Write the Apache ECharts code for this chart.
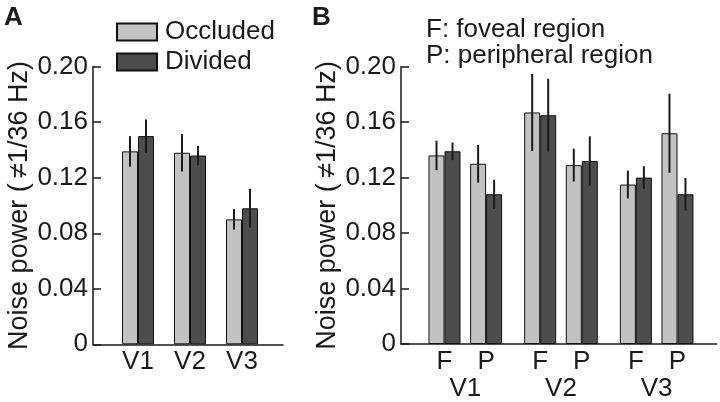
<!DOCTYPE html>
<html><head><meta charset="utf-8">
<script src="https://cdn.jsdelivr.net/npm/echarts@6/dist/echarts.min.js"></script>
<style>html,body{margin:0;padding:0;background:#fff}#c{width:720px;height:402px}</style>
</head><body><div id="c"></div>
<script>
// ---- data ----
const seriesNames = ['Occluded', 'Divided'];
const areasA = ['V1', 'V2', 'V3'];
const occludedA = [0.139, 0.138, 0.090];
const dividedA = [0.150, 0.136, 0.098];
const occludedErrA = [0.011, 0.0135, 0.0074];
const dividedErrA = [0.012, 0.007, 0.014];

const regionsB = ['F', 'P'];
const areasB = ['V1', 'V2', 'V3'];
// order: V1-F, V1-P, V2-F, V2-P, V3-F, V3-P
const occludedB = [0.136, 0.130, 0.167, 0.129, 0.115, 0.152];
const dividedB = [0.139, 0.108, 0.165, 0.132, 0.120, 0.108];
const occludedErrB = [0.0106, 0.0136, 0.0278, 0.0118, 0.0100, 0.0285];
const dividedErrB = [0.0064, 0.0105, 0.0263, 0.0178, 0.0082, 0.0117];

const yTicks = [0, 0.04, 0.08, 0.12, 0.16, 0.20];
const yName = 'Noise power (\u2009\u22601/36 Hz)';
const noteText = 'F: foveal region\nP: peripheral region';

// ---- layout helpers ----
const FONT = "'Liberation Sans', Arial, sans-serif";
const BAR_W = 16;
const REGION_STEP = 2.3;
const colors = ['#c2c2c2', '#4d4d4d'];
const ink = '#1a1a1a';

const xsA = areasA.map((_, i) => i);
const xsB = [];
areasB.forEach((_, r) => regionsB.forEach((_, s) => xsB.push(r * REGION_STEP + s)));
const regionCentersB = areasB.map((_, r) => r * REGION_STEP + (regionsB.length - 1) / 2);
const labelB = xsB.map((_, i) => regionsB[i % regionsB.length]);

function findIdx(arr, v) { return arr.findIndex(a => Math.abs(a - v) < 1e-6); }

function yAxisCfg(gridIndex) {
  return {
    type: 'value', gridIndex, min: yTicks[0], max: yTicks[yTicks.length - 1], interval: 0.04,
    position: 'left',
    name: yName, nameLocation: 'middle', nameGap: 57,
    nameTextStyle: { fontSize: 27, color: ink, fontFamily: FONT },
    axisLine: { show: true, onZero: false, lineStyle: { color: ink, width: 1.5 } },
    axisTick: { show: true, inside: true, length: 8, lineStyle: { color: ink, width: 1.5 } },
    axisLabel: {
      margin: 5, fontSize: 26, color: ink, fontFamily: FONT,
      formatter: v => (Math.abs(v) < 1e-9 ? '0' : v.toFixed(2))
    },
    splitLine: { show: false }
  };
}

function xAxisCfg(gridIndex, min, max, ticks, labelFor, showLine, offset) {
  return {
    type: 'value', gridIndex, min, max, position: 'bottom', offset: offset || 0,
    axisLine: { show: showLine, onZero: false, lineStyle: { color: ink, width: 1.5 } },
    axisTick: { show: false },
    splitLine: { show: false },
    axisLabel: {
      margin: 5, fontSize: 26, color: ink, fontFamily: FONT,
      customValues: ticks,
      formatter: v => labelFor(findIdx(ticks, v))
    }
  };
}

function barSeries(name, xAxisIndex, yAxisIndex, xs, vals, color) {
  return {
    type: 'bar', name, xAxisIndex, yAxisIndex, barWidth: BAR_W, barGap: '0%',
    data: xs.map((x, i) => [x, vals[i]]),
    itemStyle: { color, borderColor: '#111', borderWidth: 1 },
    silent: true, animation: false
  };
}

function errSeries(xAxisIndex, yAxisIndex, xs, vals, errs, side) {
  return {
    type: 'custom', xAxisIndex, yAxisIndex, silent: true, z: 5, animation: false,
    data: xs.map((x, i) => [x, vals[i] - errs[i], vals[i] + errs[i]]),
    encode: { x: 0, y: [1, 2] },
    renderItem(params, api) {
      const lo = api.coord([api.value(0), api.value(1)]);
      const hi = api.coord([api.value(0), api.value(2)]);
      const dx = side * BAR_W / 2;
      return {
        type: 'line',
        shape: { x1: lo[0] + dx, y1: lo[1], x2: hi[0] + dx, y2: hi[1] },
        style: { stroke: ink, lineWidth: 2 }
      };
    }
  };
}

const option = {
  backgroundColor: '#fff',
  animation: false,
  textStyle: { fontFamily: FONT },
  title: [
    { text: 'A', left: 4, top: 5, padding: 0, textStyle: { fontSize: 26, fontWeight: 'bold', color: ink, fontFamily: FONT } },
    { text: 'B', left: 312, top: 5, padding: 0, textStyle: { fontSize: 26, fontWeight: 'bold', color: ink, fontFamily: FONT } },
    { text: noteText, left: 426, top: 17, padding: 0, textStyle: { fontSize: 26, lineHeight: 26, fontWeight: 'normal', color: ink, fontFamily: FONT } }
  ],
  legend: {
    data: seriesNames, orient: 'vertical', left: 116, top: 19, padding: 0,
    itemWidth: 40, itemHeight: 17, itemGap: 4, icon: 'rect',
    textStyle: { fontSize: 26, lineHeight: 25, color: ink, fontFamily: FONT, padding: [0, 0, 0, 3] },
    selectedMode: false
  },
  grid: [
    { left: 93, right: 720 - 283, top: 66.7, bottom: 402 - 344.3 },
    { left: 401, right: 720 - 716.7, top: 66.7, bottom: 402 - 344.3 }
  ],
  xAxis: [
    xAxisCfg(0, -0.865, 2.788, xsA, i => areasA[i], true, 0),
    xAxisCfg(1, -1.046, 6.543, xsB, i => labelB[i], true, 0),
    xAxisCfg(1, -1.046, 6.543, regionCentersB, i => areasB[i], false, 27)
  ],
  yAxis: [yAxisCfg(0), yAxisCfg(1)],
  series: [
    barSeries(seriesNames[0], 0, 0, xsA, occludedA, colors[0]),
    barSeries(seriesNames[1], 0, 0, xsA, dividedA, colors[1]),
    barSeries(seriesNames[0], 1, 1, xsB, occludedB, colors[0]),
    barSeries(seriesNames[1], 1, 1, xsB, dividedB, colors[1]),
    errSeries(0, 0, xsA, occludedA, occludedErrA, -1),
    errSeries(0, 0, xsA, dividedA, dividedErrA, 1),
    errSeries(1, 1, xsB, occludedB, occludedErrB, -1),
    errSeries(1, 1, xsB, dividedB, dividedErrB, 1)
  ]
};

const chart = echarts.init(document.getElementById('c'), null, { renderer: 'canvas' });
chart.setOption(option);
</script>
</body></html>
